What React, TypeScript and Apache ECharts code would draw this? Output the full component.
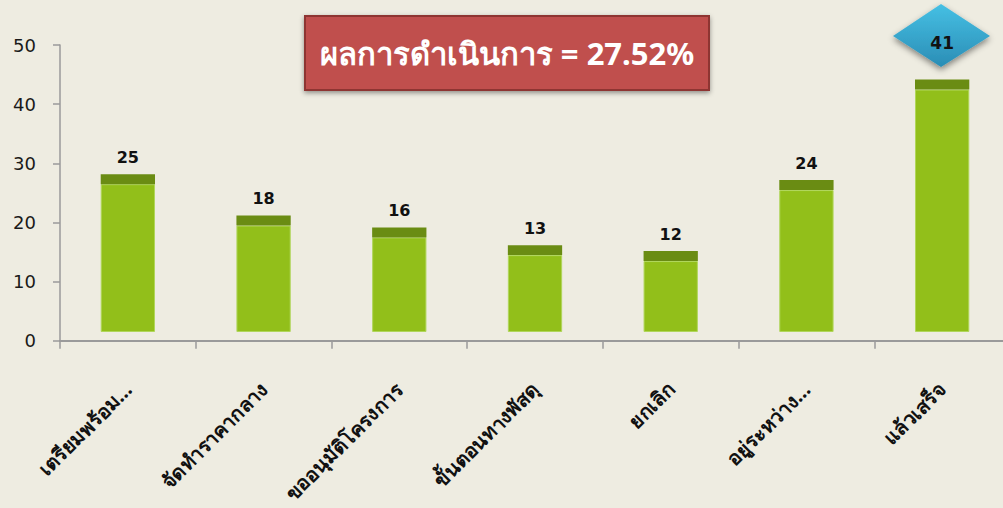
import React, { useEffect, useRef } from "react";
import * as echarts from "echarts";

const categories = [
  "เตรียมพร้อม...",
  "จัดทำราคากลาง",
  "ขออนุมัติโครงการ",
  "ขั้นตอนทางพัสดุ",
  "ยกเลิก",
  "อยู่ระหว่าง...",
  "แล้วเสร็จ",
];
const values = [25, 18, 16, 13, 12, 24, 41];
const yTicks = { min: 0, max: 50, interval: 10 };
const titleText = "ผลการดำเนินการ = 27.52%";
// 3D look: the column is lifted by a small depth offset and topped with a darker cap
const depthOffset = 1.47;
const capDepth = 1.69;

export default function App() {
  const ref = useRef<HTMLDivElement>(null);
  useEffect(() => {
    if (!ref.current) return;
    const chart = echarts.init(ref.current, undefined, { renderer: "svg" });
    const last = values.length - 1;
    chart.setOption({
      animation: false,
      backgroundColor: "#EEECE1",
      grid: {
        left: 60,
        top: 45,
        right: -7,
        bottom: 167.3,
        outerBoundsMode: "none",
        containLabel: false,
      },
      xAxis: {
        type: "category",
        data: categories,
        axisLine: { show: true, lineStyle: { color: "#9a9a9a", width: 2 } },
        axisTick: { show: true, alignWithLabel: false, length: 8, lineStyle: { color: "#9a9a9a", width: 1.5 } },
        axisLabel: {
          rotate: 45,
          interval: 0,
          margin: 45,
          color: "#111",
          fontSize: 20,
          fontWeight: "bold",
          fontFamily: "Noto Sans, Tahoma, sans-serif",
        },
      },
      yAxis: {
        type: "value",
        min: yTicks.min,
        max: yTicks.max,
        interval: yTicks.interval,
        splitLine: { show: false },
        axisLine: { show: true, lineStyle: { color: "#9a9a9a", width: 1.5 } },
        axisTick: { show: true, length: 7, lineStyle: { color: "#9a9a9a", width: 1.5 } },
        axisLabel: {
          margin: 24,
          color: "#1a1a1a",
          fontSize: 18,
          fontFamily: "DejaVu Sans, sans-serif",
        },
      },
      series: [
        {
          type: "bar",
          stack: "col",
          barWidth: "40%",
          silent: true,
          itemStyle: { color: "rgba(0,0,0,0)" },
          data: values.map(() => depthOffset),
        },
        {
          type: "bar",
          stack: "col",
          barWidth: "40%",
          itemStyle: { color: "#92BF1A", borderColor: "#B0D65A", borderWidth: 1 },
          data: values,
        },
        {
          type: "bar",
          stack: "col",
          barWidth: "40%",
          z: 5,
          itemStyle: { color: "#6A8C13" },
          label: {
            show: true,
            position: "top",
            distance: 9,
            color: "#111",
            fontSize: 16,
            fontWeight: "bold",
            fontFamily: "DejaVu Sans, sans-serif",
            formatter: (p: any) => String(values[p.dataIndex]),
          },
          data: values.map((_, i) =>
            i === last
              ? { value: capDepth, label: { offset: [0, -19], fontSize: 17 } }
              : capDepth
          ),
        },
      ],
      graphic: [
        {
          type: "polygon",
          z: 1,
          shape: { points: [[941, 4], [990, 36], [941, 67], [893, 36]] },
          style: {
            fill: new echarts.graphic.LinearGradient(0, 0, 0, 1, [
              { offset: 0, color: "#46C0E4" },
              { offset: 1, color: "#2A8DB5" },
            ]),
            shadowBlur: 6,
            shadowOffsetY: 3,
            shadowColor: "rgba(0,0,0,0.45)",
          },
        },
        {
          type: "group",
          z: 10,
          children: [
            {
              type: "rect",
              shape: { x: 305, y: 16, width: 404, height: 74 },
              style: {
                fill: "#C0504D",
                stroke: "#8E3431",
                lineWidth: 2,
                shadowBlur: 5,
                shadowOffsetY: 2,
                shadowColor: "rgba(0,0,0,0.4)",
              },
            },
            {
              type: "text",
              x: 507,
              y: 53,
              style: {
                text: titleText,
                fill: "#ffffff",
                fontSize: 31,
                fontWeight: "bold",
                fontFamily: "Noto Sans, Tahoma, sans-serif",
                align: "center",
                verticalAlign: "middle",
              },
            },
          ],
        },
      ],
    });
    return () => chart.dispose();
  }, []);
  return (
    <div
      ref={ref}
      style={{ position: "fixed", left: 0, top: 0, width: 1003, height: 508 }}
    />
  );
}
